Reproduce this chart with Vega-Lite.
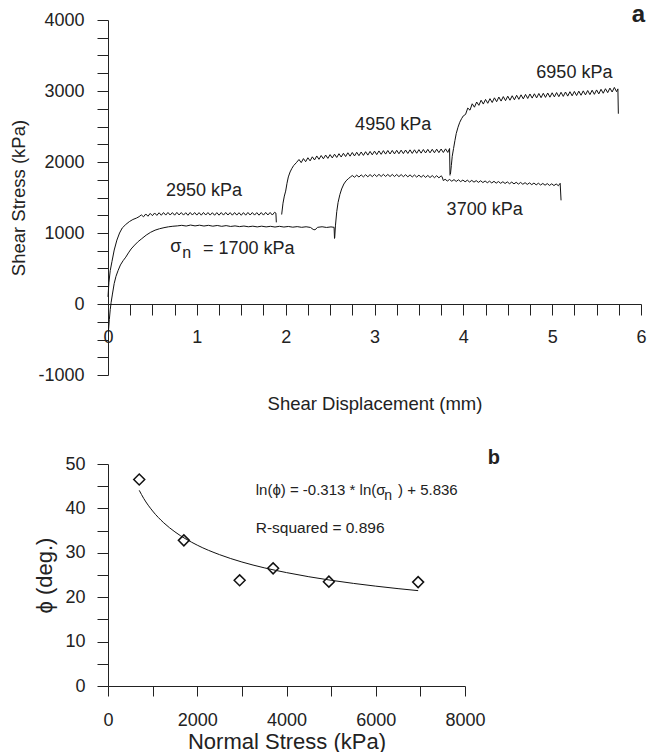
{
"$schema": "https://vega.github.io/schema/vega-lite/v6.json",
"padding": {"left": 9, "top": 3, "right": 0, "bottom": 0},
"spacing": 35,
"config": {"font": "Liberation Sans", "view": {"stroke": null},
 "axis": {"grid": false, "domainColor": "#222", "tickColor": "#222", "labelColor": "#222", "titleColor": "#222", "titleFontWeight": "normal", "labelFlush": false, "labelOverlap": false, "labelFont": "Liberation Sans", "titleFont": "Liberation Sans"},
 "title": {"color": "#222", "font": "Liberation Sans"}, "text": {"color": "#222"}},
"vconcat": [
{
 "width": 533, "height": 355,
 "title": {"text": "a", "anchor": "end", "frame": "group", "fontSize": 24, "fontWeight": "bold", "offset": -16, "dx": 4},
 "encoding": {
  "x": {"field": "x", "type": "quantitative", "scale": {"domain": [0, 6], "nice": false, "zero": false},
   "axis": {"title": "Shear Displacement (mm)", "values": [0,0.25,0.5,0.75,1,1.25,1.5,1.75,2,2.25,2.5,2.75,3,3.25,3.5,3.75,4,4.25,4.5,4.75,5,5.25,5.5,5.75,6],
    "labelExpr": "datum.value % 1 === 0 ? datum.value + '' : ''", "offset": -71, "tickSize": 11, "labelPadding": 13, "labelFontSize": 18, "titleFontSize": 18.5, "titlePadding": 48}},
  "y": {"field": "y", "type": "quantitative", "scale": {"domain": [-1000, 4000], "nice": false},
   "axis": {"title": "Shear Stress (kPa)", "values": [-1000,-750,-500,-250,0,250,500,750,1000,1250,1500,1750,2000,2250,2500,2750,3000,3250,3500,3750,4000],
    "labelExpr": "datum.value % 1000 === 0 ? datum.value + '' : ''", "tickSize": 11, "labelPadding": 13, "labelFontSize": 18, "titleFontSize": 18.5, "titlePadding": 9}}
 },
 "layer": [
  {"data": {"values": [
{"s":"2950","x":0.0,"y":100},{"s":"2950","x":0.01,"y":300},{"s":"2950","x":0.025,"y":470},{"s":"2950","x":0.045,"y":600},{"s":"2950","x":0.07,"y":760},{"s":"2950","x":0.1,"y":900},{"s":"2950","x":0.13,"y":1000},{"s":"2950","x":0.16,"y":1070},{"s":"2950","x":0.2,"y":1120},{"s":"2950","x":0.24,"y":1160},{"s":"2950","x":0.28,"y":1190},{"s":"2950","x":0.32,"y":1210},{"s":"2950","x":0.35,"y":1230},
{"s":"2950","x":0.375,"y":1255},{"s":"2950","x":0.4,"y":1228},{"s":"2950","x":0.425,"y":1268},{"s":"2950","x":0.45,"y":1236},{"s":"2950","x":0.475,"y":1276},{"s":"2950","x":0.5,"y":1244},{"s":"2950","x":0.525,"y":1282},{"s":"2950","x":0.55,"y":1248},{"s":"2950","x":0.575,"y":1285},{"s":"2950","x":0.6,"y":1250},
{"s":"2950","x":0.625,"y":1288},{"s":"2950","x":0.65,"y":1252},{"s":"2950","x":0.675,"y":1289},{"s":"2950","x":0.7,"y":1253},{"s":"2950","x":0.725,"y":1287},{"s":"2950","x":0.75,"y":1251},{"s":"2950","x":0.775,"y":1290},{"s":"2950","x":0.8,"y":1254},{"s":"2950","x":0.825,"y":1288},{"s":"2950","x":0.85,"y":1252},
{"s":"2950","x":0.875,"y":1286},{"s":"2950","x":0.9,"y":1250},{"s":"2950","x":0.925,"y":1289},{"s":"2950","x":0.95,"y":1253},{"s":"2950","x":0.975,"y":1288},{"s":"2950","x":1.0,"y":1252},{"s":"2950","x":1.025,"y":1287},{"s":"2950","x":1.05,"y":1251},{"s":"2950","x":1.075,"y":1289},{"s":"2950","x":1.1,"y":1253},
{"s":"2950","x":1.125,"y":1288},{"s":"2950","x":1.15,"y":1252},{"s":"2950","x":1.175,"y":1286},{"s":"2950","x":1.2,"y":1250},{"s":"2950","x":1.225,"y":1287},{"s":"2950","x":1.25,"y":1251},{"s":"2950","x":1.275,"y":1288},{"s":"2950","x":1.3,"y":1252},{"s":"2950","x":1.325,"y":1289},{"s":"2950","x":1.35,"y":1253},
{"s":"2950","x":1.375,"y":1287},{"s":"2950","x":1.4,"y":1251},{"s":"2950","x":1.425,"y":1288},{"s":"2950","x":1.45,"y":1252},{"s":"2950","x":1.475,"y":1286},{"s":"2950","x":1.5,"y":1250},{"s":"2950","x":1.525,"y":1287},{"s":"2950","x":1.55,"y":1251},{"s":"2950","x":1.575,"y":1289},{"s":"2950","x":1.6,"y":1253},
{"s":"2950","x":1.625,"y":1288},{"s":"2950","x":1.65,"y":1252},{"s":"2950","x":1.675,"y":1287},{"s":"2950","x":1.7,"y":1251},{"s":"2950","x":1.725,"y":1288},{"s":"2950","x":1.75,"y":1252},{"s":"2950","x":1.775,"y":1290},{"s":"2950","x":1.8,"y":1254},{"s":"2950","x":1.825,"y":1289},{"s":"2950","x":1.85,"y":1253},
{"s":"2950","x":1.875,"y":1292},{"s":"2950","x":1.89,"y":1280},{"s":"2950","x":1.895,"y":1150},
{"s":"1700","x":0.005,"y":-380},{"s":"1700","x":0.015,"y":-220},{"s":"1700","x":0.025,"y":-80},{"s":"1700","x":0.035,"y":20},{"s":"1700","x":0.05,"y":140},{"s":"1700","x":0.07,"y":290},{"s":"1700","x":0.09,"y":390},{"s":"1700","x":0.113,"y":470},{"s":"1700","x":0.14,"y":550},{"s":"1700","x":0.17,"y":610},
{"s":"1700","x":0.2,"y":660},{"s":"1700","x":0.23,"y":720},{"s":"1700","x":0.26,"y":775},{"s":"1700","x":0.3,"y":830},{"s":"1700","x":0.34,"y":880},{"s":"1700","x":0.38,"y":920},{"s":"1700","x":0.43,"y":970},{"s":"1700","x":0.48,"y":1010},{"s":"1700","x":0.53,"y":1040},{"s":"1700","x":0.58,"y":1060},
{"s":"1700","x":0.63,"y":1075},{"s":"1700","x":0.68,"y":1087},{"s":"1700","x":0.73,"y":1095},{"s":"1700","x":0.78,"y":1100},{"s":"1700","x":0.83,"y":1108},{"s":"1700","x":0.88,"y":1098},{"s":"1700","x":0.93,"y":1112},{"s":"1700","x":0.98,"y":1100},{"s":"1700","x":1.03,"y":1110},{"s":"1700","x":1.08,"y":1098},
{"s":"1700","x":1.13,"y":1108},{"s":"1700","x":1.18,"y":1096},{"s":"1700","x":1.23,"y":1106},{"s":"1700","x":1.28,"y":1094},{"s":"1700","x":1.33,"y":1104},{"s":"1700","x":1.38,"y":1092},{"s":"1700","x":1.43,"y":1100},{"s":"1700","x":1.48,"y":1090},{"s":"1700","x":1.53,"y":1098},{"s":"1700","x":1.58,"y":1088},
{"s":"1700","x":1.63,"y":1096},{"s":"1700","x":1.68,"y":1086},{"s":"1700","x":1.73,"y":1096},{"s":"1700","x":1.78,"y":1086},{"s":"1700","x":1.83,"y":1094},{"s":"1700","x":1.88,"y":1084},{"s":"1700","x":1.93,"y":1094},{"s":"1700","x":1.98,"y":1084},{"s":"1700","x":2.03,"y":1092},{"s":"1700","x":2.08,"y":1082},
{"s":"1700","x":2.13,"y":1090},{"s":"1700","x":2.18,"y":1080},{"s":"1700","x":2.23,"y":1088},{"s":"1700","x":2.28,"y":1078},{"s":"1700","x":2.31,"y":1050},{"s":"1700","x":2.33,"y":1045},{"s":"1700","x":2.36,"y":1080},{"s":"1700","x":2.41,"y":1088},{"s":"1700","x":2.46,"y":1078},{"s":"1700","x":2.51,"y":1086},
{"s":"1700","x":2.545,"y":1080},{"s":"1700","x":2.55,"y":920},
{"s":"3700","x":2.552,"y":930},{"s":"3700","x":2.56,"y":1100},{"s":"3700","x":2.575,"y":1300},{"s":"3700","x":2.59,"y":1430},{"s":"3700","x":2.61,"y":1540},{"s":"3700","x":2.63,"y":1620},{"s":"3700","x":2.655,"y":1690},{"s":"3700","x":2.68,"y":1735},{"s":"3700","x":2.71,"y":1770},{"s":"3700","x":2.73,"y":1790},
{"s":"3700","x":2.75,"y":1810},{"s":"3700","x":2.775,"y":1785},{"s":"3700","x":2.8,"y":1815},{"s":"3700","x":2.825,"y":1788},{"s":"3700","x":2.85,"y":1819},{"s":"3700","x":2.875,"y":1790},{"s":"3700","x":2.9,"y":1821},{"s":"3700","x":2.925,"y":1792},{"s":"3700","x":2.95,"y":1823},{"s":"3700","x":2.975,"y":1794},
{"s":"3700","x":3.0,"y":1825},{"s":"3700","x":3.025,"y":1795},{"s":"3700","x":3.05,"y":1826},{"s":"3700","x":3.075,"y":1796},{"s":"3700","x":3.1,"y":1826},{"s":"3700","x":3.125,"y":1796},{"s":"3700","x":3.15,"y":1825},{"s":"3700","x":3.175,"y":1795},{"s":"3700","x":3.2,"y":1825},{"s":"3700","x":3.225,"y":1795},
{"s":"3700","x":3.25,"y":1824},{"s":"3700","x":3.275,"y":1794},{"s":"3700","x":3.3,"y":1823},{"s":"3700","x":3.325,"y":1793},{"s":"3700","x":3.35,"y":1821},{"s":"3700","x":3.375,"y":1791},{"s":"3700","x":3.4,"y":1819},{"s":"3700","x":3.425,"y":1789},{"s":"3700","x":3.45,"y":1817},{"s":"3700","x":3.475,"y":1787},
{"s":"3700","x":3.5,"y":1815},{"s":"3700","x":3.525,"y":1785},{"s":"3700","x":3.55,"y":1813},{"s":"3700","x":3.575,"y":1783},{"s":"3700","x":3.6,"y":1811},{"s":"3700","x":3.625,"y":1781},{"s":"3700","x":3.65,"y":1809},{"s":"3700","x":3.675,"y":1779},{"s":"3700","x":3.7,"y":1807},{"s":"3700","x":3.725,"y":1777},
{"s":"3700","x":3.75,"y":1805},{"s":"3700","x":3.76,"y":1795},{"s":"3700","x":3.775,"y":1738},{"s":"3700","x":3.795,"y":1757},{"s":"3700","x":3.82,"y":1732},{"s":"3700","x":3.845,"y":1754},{"s":"3700","x":3.87,"y":1729},{"s":"3700","x":3.895,"y":1752},{"s":"3700","x":3.92,"y":1726},{"s":"3700","x":3.945,"y":1749},
{"s":"3700","x":3.97,"y":1724},{"s":"3700","x":3.995,"y":1746},{"s":"3700","x":4.02,"y":1721},{"s":"3700","x":4.045,"y":1744},{"s":"3700","x":4.07,"y":1718},{"s":"3700","x":4.095,"y":1741},{"s":"3700","x":4.12,"y":1716},{"s":"3700","x":4.145,"y":1738},{"s":"3700","x":4.17,"y":1713},{"s":"3700","x":4.195,"y":1736},
{"s":"3700","x":4.22,"y":1710},{"s":"3700","x":4.245,"y":1733},{"s":"3700","x":4.27,"y":1708},{"s":"3700","x":4.295,"y":1730},{"s":"3700","x":4.32,"y":1705},{"s":"3700","x":4.345,"y":1728},{"s":"3700","x":4.37,"y":1702},{"s":"3700","x":4.395,"y":1725},{"s":"3700","x":4.42,"y":1700},{"s":"3700","x":4.445,"y":1722},
{"s":"3700","x":4.47,"y":1697},{"s":"3700","x":4.495,"y":1720},{"s":"3700","x":4.52,"y":1694},{"s":"3700","x":4.545,"y":1717},{"s":"3700","x":4.57,"y":1692},{"s":"3700","x":4.595,"y":1714},{"s":"3700","x":4.62,"y":1689},{"s":"3700","x":4.645,"y":1712},{"s":"3700","x":4.67,"y":1686},{"s":"3700","x":4.695,"y":1709},
{"s":"3700","x":4.72,"y":1684},{"s":"3700","x":4.745,"y":1706},{"s":"3700","x":4.77,"y":1681},{"s":"3700","x":4.795,"y":1704},{"s":"3700","x":4.82,"y":1678},{"s":"3700","x":4.845,"y":1701},{"s":"3700","x":4.87,"y":1676},{"s":"3700","x":4.895,"y":1698},{"s":"3700","x":4.92,"y":1673},{"s":"3700","x":4.945,"y":1696},
{"s":"3700","x":4.97,"y":1670},{"s":"3700","x":4.995,"y":1693},{"s":"3700","x":5.02,"y":1668},{"s":"3700","x":5.045,"y":1691},{"s":"3700","x":5.07,"y":1666},{"s":"3700","x":5.09,"y":1700},{"s":"3700","x":5.1,"y":1460},
{"s":"4950","x":1.955,"y":1260},{"s":"4950","x":1.97,"y":1420},{"s":"4950","x":1.985,"y":1520},{"s":"4950","x":2.0,"y":1590},{"s":"4950","x":2.015,"y":1700},{"s":"4950","x":2.03,"y":1790},{"s":"4950","x":2.05,"y":1860},{"s":"4950","x":2.07,"y":1910},{"s":"4950","x":2.09,"y":1950},{"s":"4950","x":2.12,"y":1990},
{"s":"4950","x":2.15,"y":2035},{"s":"4950","x":2.175,"y":1991},{"s":"4950","x":2.2,"y":2048},{"s":"4950","x":2.225,"y":2004},{"s":"4950","x":2.25,"y":2060},{"s":"4950","x":2.275,"y":2016},{"s":"4950","x":2.3,"y":2073},{"s":"4950","x":2.325,"y":2029},{"s":"4950","x":2.35,"y":2085},{"s":"4950","x":2.375,"y":2038},
{"s":"4950","x":2.4,"y":2091},{"s":"4950","x":2.425,"y":2045},{"s":"4950","x":2.45,"y":2098},{"s":"4950","x":2.475,"y":2051},{"s":"4950","x":2.5,"y":2104},{"s":"4950","x":2.525,"y":2057},{"s":"4950","x":2.55,"y":2110},{"s":"4950","x":2.575,"y":2064},{"s":"4950","x":2.6,"y":2117},{"s":"4950","x":2.625,"y":2070},
{"s":"4950","x":2.65,"y":2123},{"s":"4950","x":2.675,"y":2077},{"s":"4950","x":2.7,"y":2130},{"s":"4950","x":2.725,"y":2082},{"s":"4950","x":2.75,"y":2134},{"s":"4950","x":2.775,"y":2085},{"s":"4950","x":2.8,"y":2137},{"s":"4950","x":2.825,"y":2089},{"s":"4950","x":2.85,"y":2141},{"s":"4950","x":2.875,"y":2093},
{"s":"4950","x":2.9,"y":2145},{"s":"4950","x":2.925,"y":2097},{"s":"4950","x":2.95,"y":2149},{"s":"4950","x":2.975,"y":2101},{"s":"4950","x":3.0,"y":2153},{"s":"4950","x":3.025,"y":2104},{"s":"4950","x":3.05,"y":2156},{"s":"4950","x":3.075,"y":2108},{"s":"4950","x":3.1,"y":2160},{"s":"4950","x":3.125,"y":2111},
{"s":"4950","x":3.15,"y":2162},{"s":"4950","x":3.175,"y":2113},{"s":"4950","x":3.2,"y":2163},{"s":"4950","x":3.225,"y":2114},{"s":"4950","x":3.25,"y":2165},{"s":"4950","x":3.275,"y":2116},{"s":"4950","x":3.3,"y":2167},{"s":"4950","x":3.325,"y":2118},{"s":"4950","x":3.35,"y":2169},{"s":"4950","x":3.375,"y":2120},
{"s":"4950","x":3.4,"y":2171},{"s":"4950","x":3.425,"y":2121},{"s":"4950","x":3.45,"y":2172},{"s":"4950","x":3.475,"y":2123},{"s":"4950","x":3.5,"y":2174},{"s":"4950","x":3.525,"y":2125},{"s":"4950","x":3.55,"y":2176},{"s":"4950","x":3.575,"y":2127},{"s":"4950","x":3.6,"y":2178},{"s":"4950","x":3.625,"y":2129},
{"s":"4950","x":3.65,"y":2179},{"s":"4950","x":3.675,"y":2130},{"s":"4950","x":3.7,"y":2181},{"s":"4950","x":3.725,"y":2132},{"s":"4950","x":3.75,"y":2183},{"s":"4950","x":3.775,"y":2134},{"s":"4950","x":3.8,"y":2185},{"s":"4950","x":3.825,"y":2135},{"s":"4950","x":3.845,"y":2190},{"s":"4950","x":3.85,"y":1810},
{"s":"6950","x":3.855,"y":1830},{"s":"6950","x":3.865,"y":1950},{"s":"6950","x":3.875,"y":2080},{"s":"6950","x":3.89,"y":2190},{"s":"6950","x":3.905,"y":2300},{"s":"6950","x":3.92,"y":2400},{"s":"6950","x":3.94,"y":2490},{"s":"6950","x":3.96,"y":2560},{"s":"6950","x":3.98,"y":2610},{"s":"6950","x":4.0,"y":2650},
{"s":"6950","x":4.025,"y":2670},{"s":"6950","x":4.05,"y":2760},{"s":"6950","x":4.075,"y":2730},{"s":"6950","x":4.1,"y":2820},{"s":"6950","x":4.125,"y":2772},{"s":"6950","x":4.15,"y":2845},{"s":"6950","x":4.175,"y":2798},{"s":"6950","x":4.2,"y":2870},{"s":"6950","x":4.225,"y":2816},{"s":"6950","x":4.25,"y":2881},
{"s":"6950","x":4.275,"y":2827},{"s":"6950","x":4.3,"y":2892},{"s":"6950","x":4.325,"y":2838},{"s":"6950","x":4.35,"y":2904},{"s":"6950","x":4.375,"y":2849},{"s":"6950","x":4.4,"y":2915},{"s":"6950","x":4.425,"y":2858},{"s":"6950","x":4.45,"y":2921},{"s":"6950","x":4.475,"y":2864},{"s":"6950","x":4.5,"y":2927},
{"s":"6950","x":4.525,"y":2870},{"s":"6950","x":4.55,"y":2933},{"s":"6950","x":4.575,"y":2876},{"s":"6950","x":4.6,"y":2940},{"s":"6950","x":4.625,"y":2883},{"s":"6950","x":4.65,"y":2946},{"s":"6950","x":4.675,"y":2889},{"s":"6950","x":4.7,"y":2952},{"s":"6950","x":4.725,"y":2895},{"s":"6950","x":4.75,"y":2958},
{"s":"6950","x":4.775,"y":2900},{"s":"6950","x":4.8,"y":2961},{"s":"6950","x":4.825,"y":2903},{"s":"6950","x":4.85,"y":2965},{"s":"6950","x":4.875,"y":2906},{"s":"6950","x":4.9,"y":2968},{"s":"6950","x":4.925,"y":2910},{"s":"6950","x":4.95,"y":2972},{"s":"6950","x":4.975,"y":2913},{"s":"6950","x":5.0,"y":2975},
{"s":"6950","x":5.025,"y":2917},{"s":"6950","x":5.05,"y":2978},{"s":"6950","x":5.075,"y":2920},{"s":"6950","x":5.1,"y":2982},{"s":"6950","x":5.125,"y":2924},{"s":"6950","x":5.15,"y":2986},{"s":"6950","x":5.175,"y":2928},{"s":"6950","x":5.2,"y":2990},{"s":"6950","x":5.225,"y":2932},{"s":"6950","x":5.25,"y":2994},
{"s":"6950","x":5.275,"y":2936},{"s":"6950","x":5.3,"y":2998},{"s":"6950","x":5.325,"y":2940},{"s":"6950","x":5.35,"y":3002},{"s":"6950","x":5.375,"y":2945},{"s":"6950","x":5.4,"y":3007},{"s":"6950","x":5.425,"y":2949},{"s":"6950","x":5.45,"y":3011},{"s":"6950","x":5.475,"y":2953},{"s":"6950","x":5.5,"y":3015},
{"s":"6950","x":5.525,"y":2959},{"s":"6950","x":5.55,"y":3024},{"s":"6950","x":5.575,"y":2968},{"s":"6950","x":5.6,"y":3032},{"s":"6950","x":5.625,"y":2977},{"s":"6950","x":5.65,"y":3041},{"s":"6950","x":5.675,"y":2986},{"s":"6950","x":5.7,"y":3050},{"s":"6950","x":5.725,"y":2990},{"s":"6950","x":5.74,"y":3030},
{"s":"6950","x":5.745,"y":2680}
  ]},
  "mark": {"type": "line", "color": "#111", "strokeWidth": 1},
  "encoding": {"detail": {"field": "s"}}},
  {"data": {"values": [{"x": 1.08, "y": 1590, "t": "2950 kPa"}, {"x": 3.21, "y": 2525, "t": "4950 kPa"}, {"x": 5.25, "y": 3256, "t": "6950 kPa"}, {"x": 4.24, "y": 1322, "t": "3700 kPa"}]},
   "mark": {"type": "text", "fontSize": 18, "align": "center", "baseline": "middle"},
   "encoding": {"text": {"field": "t"}}},
  {"data": {"values": [{"x": 0.70, "y": 800, "t": "σ"}, {"x": 1.07, "y": 781, "t": "= 1700 kPa"}]},
   "mark": {"type": "text", "fontSize": 18, "align": "left", "baseline": "middle"},
   "encoding": {"text": {"field": "t"}}},
  {"data": {"values": [{"x": 0.835, "y": 725, "t": "n"}]},
   "mark": {"type": "text", "fontSize": 16, "align": "left", "baseline": "middle"},
   "encoding": {"text": {"field": "t"}}}
 ]
},
{
 "width": 357, "height": 222,
 "title": {"text": "b", "anchor": "end", "frame": "group", "fontSize": 20, "fontWeight": "bold", "offset": -13, "dx": 35},
 "encoding": {
  "x": {"field": "x", "type": "quantitative", "scale": {"domain": [0, 8000], "nice": false},
   "axis": {"title": "Normal Stress (kPa)", "values": [0,1000,2000,3000,4000,5000,6000,7000,8000],
    "labelExpr": "datum.value % 2000 === 0 ? datum.value + '' : ''", "tickSize": 10, "labelPadding": 15, "labelFontSize": 18, "titleFontSize": 22, "titlePadding": 2}},
  "y": {"field": "y", "type": "quantitative", "scale": {"domain": [0, 50], "nice": false},
   "axis": {"title": "ϕ (deg.)", "values": [0,5,10,15,20,25,30,35,40,45,50],
    "labelExpr": "datum.value % 10 === 0 ? datum.value + '' : ''", "tickSize": 11, "labelPadding": 12, "labelFontSize": 18, "titleFontSize": 22, "titlePadding": 8}}
 },
 "layer": [
  {"data": {"values": [{"x": 700, "y": 44.07}, {"x": 800, "y": 42.25}, {"x": 1000, "y": 39.41}, {"x": 1250, "y": 36.75}, {"x": 1500, "y": 34.71}, {"x": 2000, "y": 31.72}, {"x": 2500, "y": 29.58}, {"x": 3000, "y": 27.93}, {"x": 3500, "y": 26.62}, {"x": 4000, "y": 25.54}, {"x": 4500, "y": 24.61}, {"x": 5000, "y": 23.81}, {"x": 5500, "y": 23.11}, {"x": 6000, "y": 22.49}, {"x": 6500, "y": 21.93}, {"x": 6950, "y": 21.48}]},
   "mark": {"type": "line", "color": "#111", "strokeWidth": 1, "interpolate": "monotone"},
   "encoding": {}},
  {"data": {"values": [{"x": 700, "y": 46.5}, {"x": 1700, "y": 32.8}, {"x": 2950, "y": 23.8}, {"x": 3700, "y": 26.5}, {"x": 4950, "y": 23.5}, {"x": 6950, "y": 23.4}]},
   "mark": {"type": "point", "shape": "diamond", "filled": false, "size": 120, "color": "#111", "strokeWidth": 1.5, "opacity": 1},
   "encoding": {}},
  {"data": {"values": [{"x": 3310, "y": 44.2, "t": "ln(ϕ) = -0.313 * ln(σ"}, {"x": 6500, "y": 44.2, "t": ") + 5.836"}]},
   "mark": {"type": "text", "fontSize": 15, "align": "left", "baseline": "middle"},
   "encoding": {"text": {"field": "t"}}},
  {"data": {"values": [{"x": 3310, "y": 35.5, "t": "R-squared = 0.896"}]},
   "mark": {"type": "text", "fontSize": 15.5, "align": "left", "baseline": "middle"},
   "encoding": {"text": {"field": "t"}}},
  {"data": {"values": [{"x": 6190, "y": 42.9, "t": "n"}]},
   "mark": {"type": "text", "fontSize": 14, "align": "left", "baseline": "middle"},
   "encoding": {"text": {"field": "t"}}}
 ]
}
]
}
